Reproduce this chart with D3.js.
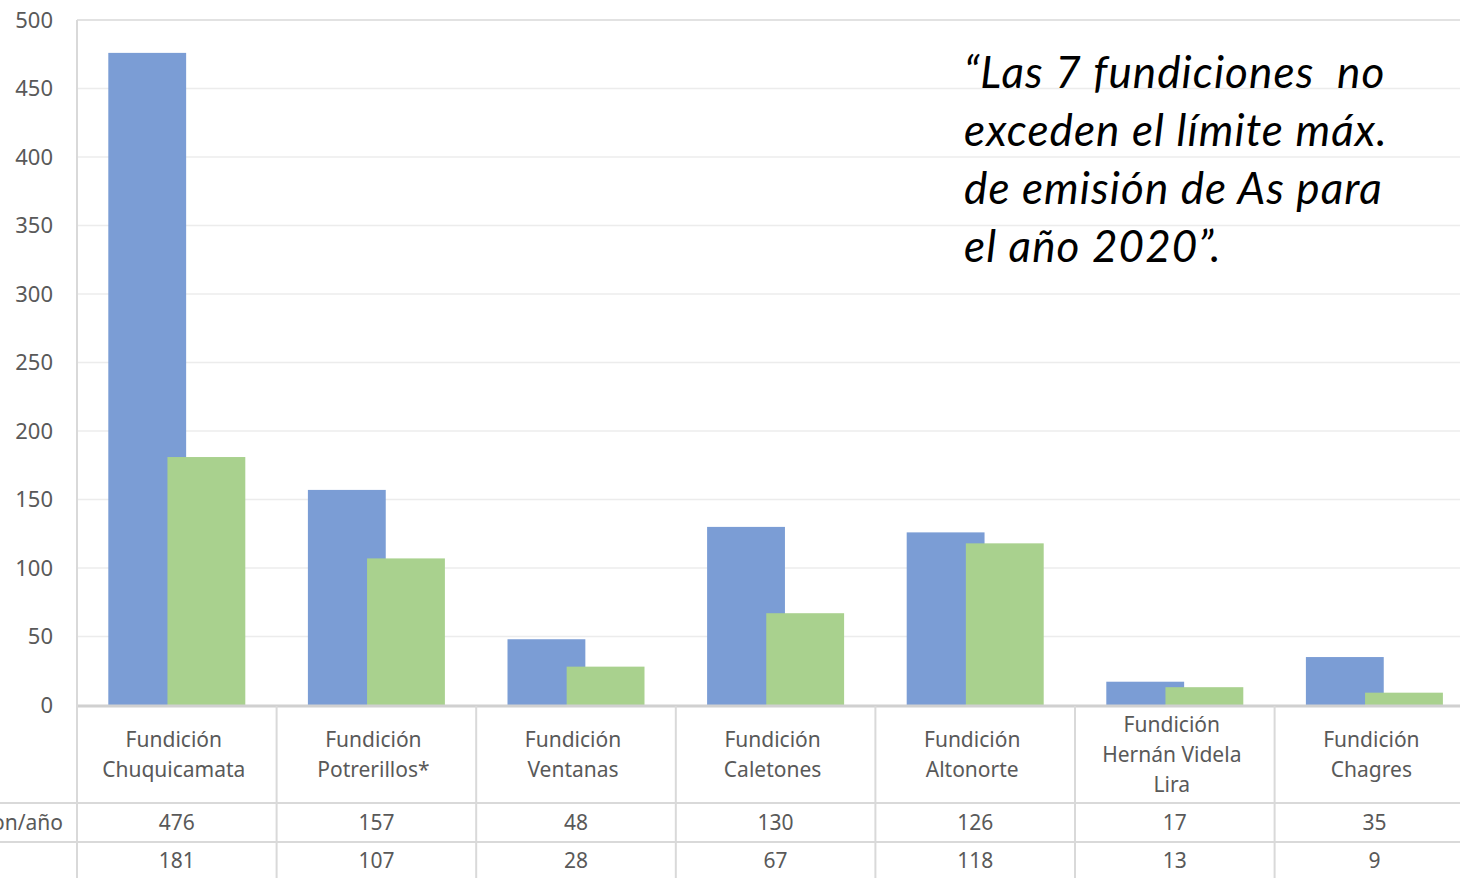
<!DOCTYPE html>
<html><head><meta charset="utf-8">
<script src="https://cdn.jsdelivr.net/npm/d3@7"></script>
<style>html,body{margin:0;padding:0;background:#fff;overflow:hidden}</style>
</head><body>
<svg id="c" width="1460" height="878"></svg>
<script>
const categories = [
  ["Fundición","Chuquicamata"],
  ["Fundición","Potrerillos*"],
  ["Fundición","Ventanas"],
  ["Fundición","Caletones"],
  ["Fundición","Altonorte"],
  ["Fundición","Hernán Videla","Lira"],
  ["Fundición","Chagres"]
];
const emisiones = [476,157,48,130,126,17,35];
const limite = [181,107,28,67,118,13,9];
const rowLabels = ["Emisión ton/año",""];
const yTicks = [0,50,100,150,200,250,300,350,400,450,500];
const noteLines = ["“Las 7 fundiciones  no","exceden el límite máx.","de emisión de As para","el año 2020”."];

(function(){
const svg = d3.select("#c");
const keys = categories.map((c,i)=>i);
const plotLeft = 77, plotTop = 20, plotBottom = 705, bw = 199.6;
const x = d3.scaleBand().domain(keys).range([plotLeft, plotLeft + bw*7]).paddingInner(0).paddingOuter(0);
const y = d3.scaleLinear().domain([0,500]).range([plotBottom, plotTop]);
const font = "'Noto Sans', 'Open Sans', sans-serif";
const grey = "#595959";

svg.append("g").selectAll("line").data(yTicks.filter(d=>d>0 && d<500)).join("line")
  .attr("x1", plotLeft).attr("x2", 1460).attr("y1", d=>y(d)).attr("y2", d=>y(d))
  .attr("stroke", "#ececec").attr("stroke-width", 1.5);
svg.append("line").attr("x1", plotLeft).attr("x2", 1460).attr("y1", y(500)).attr("y2", y(500))
  .attr("stroke", "#d9d9d9").attr("stroke-width", 1.5);

svg.append("g").selectAll("text").data(yTicks).join("text")
  .attr("x", 53).attr("y", d=>y(d)).attr("dy", "0.35em")
  .attr("text-anchor", "end").attr("font-family", font).attr("font-size", 22)
  .attr("fill", grey).text(d=>d);

const barW = bw*0.39;
svg.append("g").selectAll("rect").data(emisiones).join("rect")
  .attr("x", (d,i)=>x(i) + bw/2 - 68.5).attr("width", barW)
  .attr("y", d=>y(d)).attr("height", d=>y(0)-y(d))
  .attr("fill", "#7b9dd5");
svg.append("g").selectAll("rect").data(limite).join("rect")
  .attr("x", (d,i)=>x(i) + bw/2 + 68.5 - barW).attr("width", barW)
  .attr("y", d=>y(d)).attr("height", d=>y(0)-y(d))
  .attr("fill", "#a9d18e");

const rowY = [706, 803, 842, 880];
svg.append("line").attr("x1", plotLeft).attr("x2", 1460).attr("y1", rowY[0]).attr("y2", rowY[0])
  .attr("stroke", "#d0d0d0").attr("stroke-width", 3);
svg.append("g").selectAll("line").data(rowY.slice(1)).join("line")
  .attr("x1", 0).attr("x2", 1460).attr("y1", d=>d).attr("y2", d=>d)
  .attr("stroke", "#d9d9d9").attr("stroke-width", 2);
svg.append("line").attr("x1", plotLeft).attr("x2", plotLeft).attr("y1", plotTop).attr("y2", 878)
  .attr("stroke", "#d9d9d9").attr("stroke-width", 2);
svg.append("g").selectAll("line").data(keys.slice(1)).join("line")
  .attr("x1", d=>x(d)).attr("x2", d=>x(d)).attr("y1", rowY[0]).attr("y2", 878)
  .attr("stroke", "#d9d9d9").attr("stroke-width", 2);

const catG = svg.append("g");
categories.forEach((lines,i)=>{
  const cx = x(i) + bw/2 - 3;
  const mid = 755;
  const lh = 30;
  lines.forEach((t,j)=>{
    catG.append("text").attr("x", cx).attr("y", mid + (j - (lines.length-1)/2)*lh).attr("dy","0.35em")
      .attr("text-anchor","middle").attr("font-family", font).attr("font-size", 21)
      .attr("fill", grey).text(t);
  });
});
[emisiones, limite].forEach((arr,r)=>{
  const cy = (rowY[r+1] + rowY[r+2]) / 2;
  svg.append("g").selectAll("text").data(arr).join("text")
    .attr("x", (d,i)=>x(i) + bw/2).attr("y", cy).attr("dy","0.35em")
    .attr("text-anchor","middle").attr("font-family", font).attr("font-size", 21)
    .attr("fill", grey).text(d=>d);
  svg.append("text").attr("x", 63).attr("y", cy).attr("dy","0.35em")
    .attr("text-anchor","end").attr("font-family", font).attr("font-size", 21)
    .attr("fill", grey).text(rowLabels[r]);
});

svg.append("g").selectAll("text").data(noteLines).join("text")
  .attr("x", 964).attr("y", (d,i)=>88 + i*58)
  .style("white-space","pre")
  .attr("font-family", "Lato, 'Open Sans', sans-serif").attr("font-style","italic")
  .attr("font-size", 44).attr("letter-spacing", 1.1).attr("fill", "#000").text(d=>d);
})();
</script>
</body></html>
